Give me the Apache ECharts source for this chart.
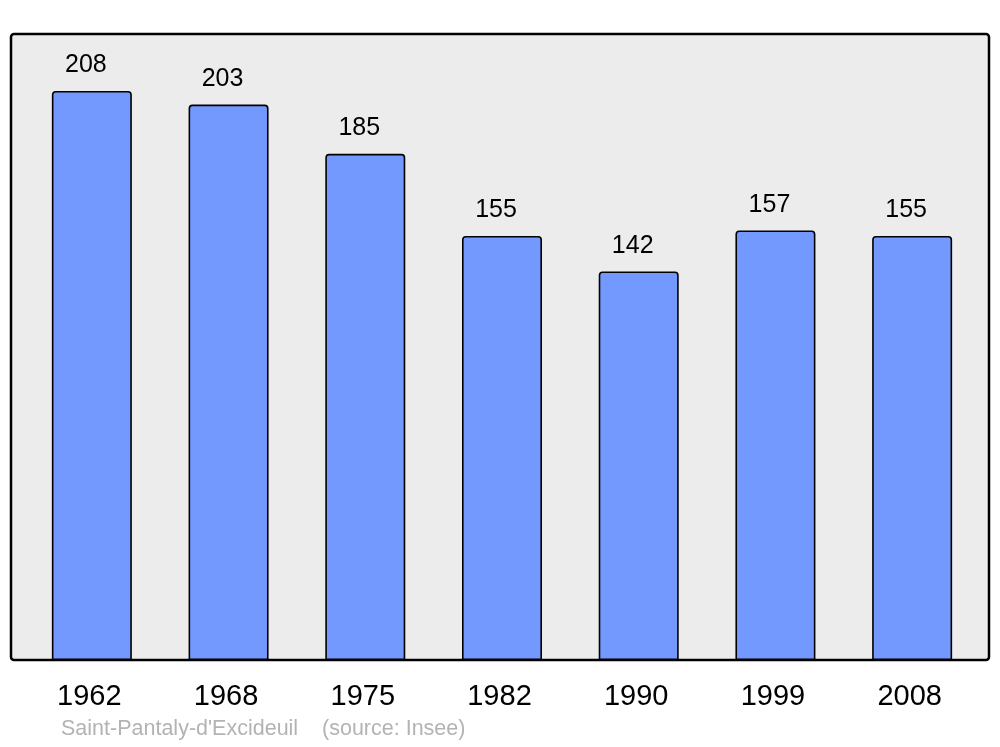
<!DOCTYPE html>
<html><head><meta charset="utf-8">
<script src="https://cdn.jsdelivr.net/npm/echarts@6/dist/echarts.min.js"></script>
<style>html,body{margin:0;padding:0;background:#fff}#c{width:1000px;height:747px}</style>
</head><body><div id="c"></div>
<script>
var years = ['1962','1968','1975','1982','1990','1999','2008'];
var population = [208, 203, 185, 155, 142, 157, 155];
var sourceText = "Saint-Pantaly-d'Excideuil    (source: Insee)";

var chart = echarts.init(document.getElementById('c'), null, {renderer:'canvas'});
chart.setOption({
  animation: false,
  backgroundColor: '#ffffff',
  graphic: [
    {type:'rect', z:-10, shape:{x:11, y:34, width:978, height:626, r:3},
     style:{fill:'#ececec', stroke:'#000', lineWidth:2.5}},
    {type:'text', left:61, top:718, style:{text:sourceText, fill:'#b3b3b3', font:'21.5px "Liberation Sans", Arial, sans-serif'}}
  ],
  grid: {left:23.5, right:19.5, top:34, bottom:87, containLabel:false},
  xAxis: {
    type:'category', data: years, boundaryGap:true,
    axisLine:{show:false}, axisTick:{show:false},
    axisLabel:{color:'#000', fontSize:29, fontFamily:'"Liberation Sans", Arial, sans-serif', margin:22, padding:[0,5,0,0]}
  },
  yAxis: {type:'value', min:0, max:228.8, show:false, splitLine:{show:false}},
  series: [{
    type:'bar', data: population, barWidth:80,
    itemStyle:{color:'#7399ff', borderColor:'#000', borderWidth:1.6, borderRadius:[3,3,0,0]},
    label:{show:true, position:'top', distance:13, offset:[-6,0], color:'#000', fontSize:25,
      fontFamily:'"Liberation Sans", Arial, sans-serif'}
  }]
});
</script></body></html>
